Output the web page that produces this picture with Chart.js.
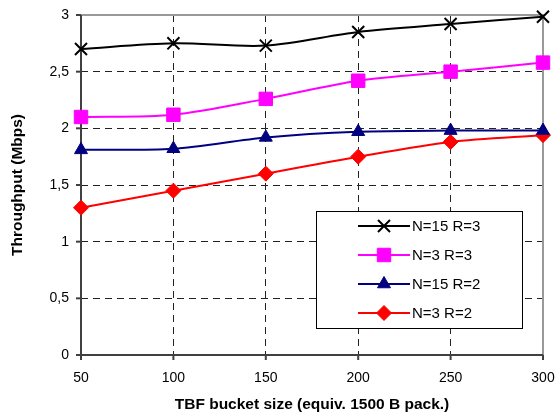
<!DOCTYPE html>
<html><head><meta charset="utf-8">
<script src="https://cdn.jsdelivr.net/npm/chart.js@4/dist/chart.umd.min.js"></script>
<style>html,body{margin:0;padding:0;background:#fff}#wrap{width:556px;height:414px}</style>
</head><body><div id="wrap"><canvas id="c" width="556" height="414"></canvas></div>
<script>
const bucketSizes = [50, 100, 150, 200, 250, 300];
const n15r3 = [2.70, 2.75, 2.73, 2.85, 2.92, 2.985];
const n3r3 = [2.10, 2.12, 2.26, 2.42, 2.50, 2.58];
const n15r2 = [1.81, 1.82, 1.92, 1.97, 1.98, 1.98];
const n3r2 = [1.30, 1.45, 1.60, 1.75, 1.88, 1.94];
const seriesNames = ['N=15 R=3', 'N=3 R=3', 'N=15 R=2', 'N=3 R=2'];
const yTicks = [0, 0.5, 1, 1.5, 2, 2.5, 3];
const xTitle = 'TBF bucket size (equiv. 1500 B pack.)';
const yTitle = 'Throughput (Mbps)';

const pts = a => a.map((v, i) => ({x: bucketSizes[i], y: v}));
const FONT = '"Liberation Sans", Arial, sans-serif';

const styles = [
  {color: '#000000', pointStyle: 'crossRot', radius: 8.5, bw: 2},
  {color: '#FF00FF', pointStyle: 'rect', radius: 9.5, bw: 1},
  {color: '#000080', pointStyle: 'triangle', radius: 7.5, bw: 1},
  {color: '#FF0000', pointStyle: 'rectRot', radius: 7.5, bw: 1}
];
const allData = [n15r3, n3r3, n15r2, n3r2];

const datasets = allData.map((d, i) => ({
  label: seriesNames[i],
  data: pts(d),
  borderColor: styles[i].color,
  backgroundColor: styles[i].color,
  pointBackgroundColor: styles[i].color,
  pointBorderColor: styles[i].color,
  pointStyle: styles[i].pointStyle,
  pointRadius: styles[i].radius,
  pointBorderWidth: styles[i].bw,
  borderWidth: 2,
  tension: 0.3,
  fill: false,
  clip: false
}));

const framePlugin = {
  id: 'frame',
  beforeDatasetsDraw(chart) {
    const {ctx, chartArea: a, scales} = chart;
    ctx.save();
    ctx.strokeStyle = '#999999';
    ctx.lineWidth = 2;
    ctx.beginPath();
    ctx.moveTo(a.left, a.top); ctx.lineTo(a.right, a.top); ctx.lineTo(a.right, a.bottom);
    ctx.stroke();
    ctx.strokeStyle = '#404040';
    ctx.beginPath();
    ctx.moveTo(a.left, a.top); ctx.lineTo(a.left, a.bottom); ctx.lineTo(a.right, a.bottom);
    ctx.stroke();
    yTicks.forEach(v => {
      const y = scales.y.getPixelForValue(v);
      ctx.beginPath(); ctx.moveTo(a.left - 5, y); ctx.lineTo(a.left, y); ctx.stroke();
    });
    bucketSizes.forEach(v => {
      const x = scales.x.getPixelForValue(v);
      ctx.beginPath(); ctx.moveTo(x, a.bottom); ctx.lineTo(x, a.bottom + 5); ctx.stroke();
    });
    ctx.restore();
  },
  afterDraw(chart) {
    const {ctx} = chart;
    const bx = 316, by = 211, bw = 206, bh = 117;
    ctx.save();
    ctx.fillStyle = '#fff';
    ctx.fillRect(bx, by, bw, bh);
    ctx.strokeStyle = '#000';
    ctx.lineWidth = 1;
    ctx.strokeRect(bx + 0.5, by + 0.5, bw, bh);
    const rows = [226, 255, 284, 313];
    ctx.font = '15px ' + FONT;
    ctx.textBaseline = 'middle';
    ctx.textAlign = 'left';
    rows.forEach((ry, i) => {
      const s = styles[i];
      ctx.strokeStyle = s.color;
      ctx.fillStyle = s.color;
      ctx.lineWidth = 2;
      ctx.beginPath(); ctx.moveTo(358, ry); ctx.lineTo(410, ry); ctx.stroke();
      ctx.lineWidth = s.bw;
      Chart.helpers.drawPoint(ctx, {pointStyle: s.pointStyle, radius: s.radius, borderWidth: s.bw}, 384, ry);
      ctx.fillStyle = '#000';
      ctx.fillText(seriesNames[i], 412, ry + 1);
    });
    ctx.restore();
  }
};

new Chart(document.getElementById('c'), {
  type: 'line',
  data: {datasets},
  options: {
    responsive: false,
    animation: false,
    devicePixelRatio: 1,
    layout: {padding: {left: 0, right: 13, top: 15, bottom: 0}},
    plugins: {legend: {display: false}, tooltip: {enabled: false}},
    scales: {
      x: {
        type: 'linear', min: 50, max: 300,
        afterBuildTicks: s => { s.ticks = bucketSizes.map(v => ({value: v})); },
        afterFit: s => { s.height = 59; s.paddingLeft = 0; s.paddingRight = 0; },
        border: {display: false, dash: [7, 5]},
        grid: {
          drawTicks: false,
          color: c => (c.tick && (c.tick.value === 50 || c.tick.value === 300)) ? 'rgba(0,0,0,0)' : '#222',
          lineWidth: 1
        },
        ticks: {padding: 15, color: '#000', font: {family: FONT, size: 14}, maxRotation: 0},
        title: {display: true, text: xTitle, color: '#000', font: {family: FONT, size: 15.5, weight: 'bold'}, padding: {top: 10, bottom: 0}}
      },
      y: {
        min: 0, max: 3,
        afterBuildTicks: s => { s.ticks = yTicks.map(v => ({value: v})); },
        afterFit: s => { s.width = 81; s.paddingTop = 0; s.paddingBottom = 0; },
        border: {display: false, dash: [7, 5]},
        grid: {
          drawTicks: false,
          color: c => (c.tick && (c.tick.value === 0 || c.tick.value === 3)) ? 'rgba(0,0,0,0)' : '#222',
          lineWidth: 1
        },
        ticks: {padding: 12, color: '#000', font: {family: FONT, size: 14}, callback: v => String(v).replace('.', ',')},
        title: {display: true, text: yTitle, color: '#000', font: {family: FONT, size: 15.5, weight: 'bold'}, padding: {top: 8, bottom: 0}}
      }
    }
  },
  plugins: [framePlugin]
});
</script>
</body></html>
